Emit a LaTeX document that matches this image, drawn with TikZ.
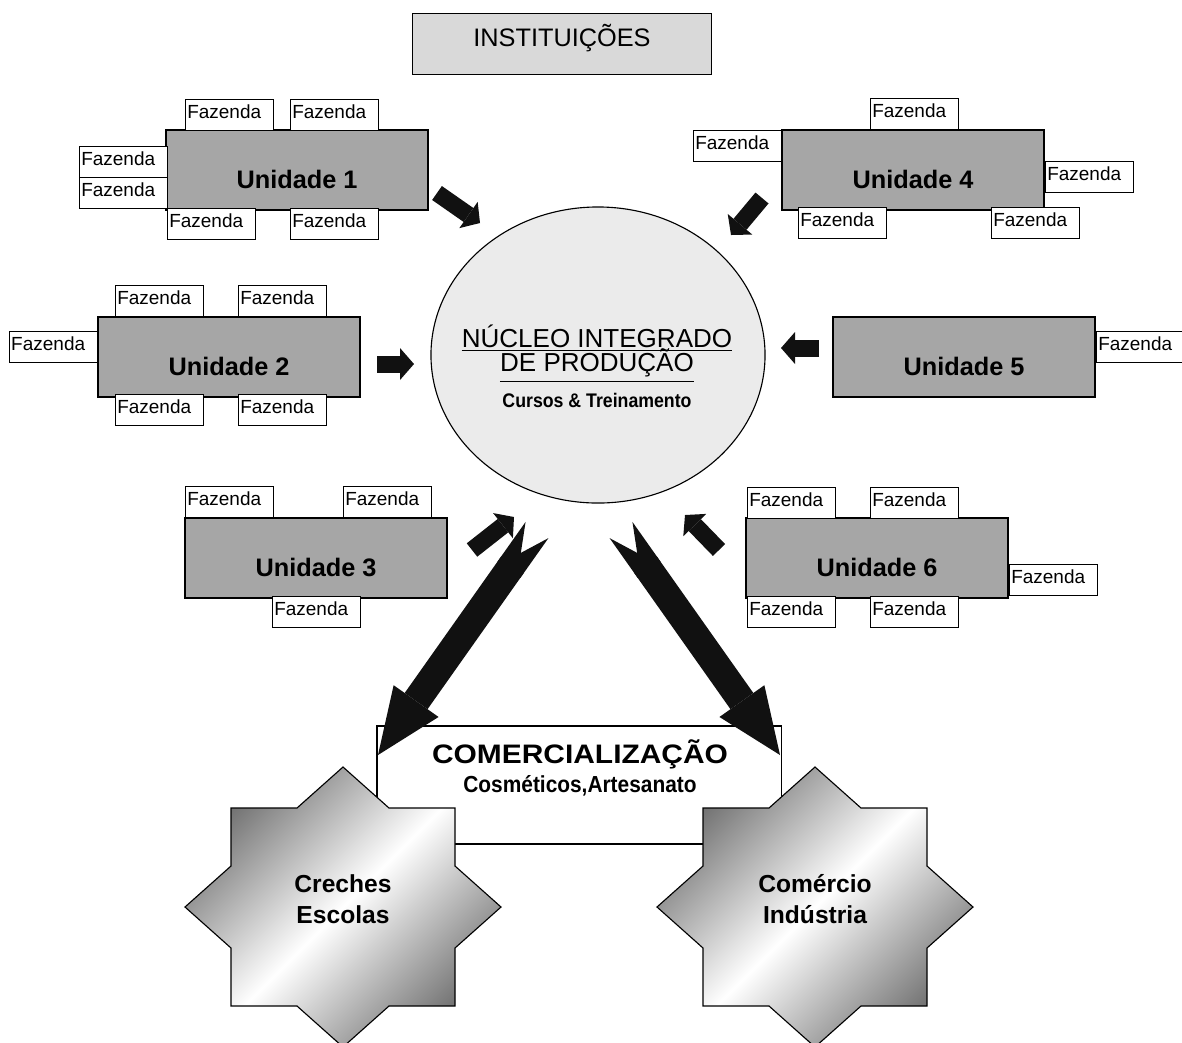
\documentclass[tikz,border=0pt]{standalone}
\usepackage{fontspec}
\setmainfont{Liberation Sans}
\newfontfamily\estreito{Liberation Sans}[FakeStretch=0.9]
\newfontfamily\largo{Liberation Sans}[FakeStretch=1.12]
\usetikzlibrary{arrows.meta,shapes.geometric}

\definecolor{cinzaunid}{HTML}{A6A6A6}
\definecolor{cinzainst}{HTML}{D9D9D9}
\definecolor{cinzanucleo}{HTML}{EBEBEB}
\definecolor{preto}{HTML}{111111}

\tikzset{
  fazenda/.style={draw, fill=white, line width=0.8pt, anchor=north west,
    inner xsep=1.2pt, inner ysep=0pt, text width=2.11cm, align=left,
    minimum height=0.775cm, text height=10pt, text depth=4.5pt,
    font=\fontsize{13.5}{15}\selectfont},
  unidade/.style={draw, fill=cinzaunid, line width=1pt, minimum width=6.55cm,
    minimum height=2cm, text height=26pt, text depth=0pt,
    font=\bfseries\fontsize{18}{20}\selectfont},
  seta/.style={draw=preto, line width=0.425cm,
    -{Triangle[length=0.35cm, width=0.8cm, line width=0pt]}},
  setagrande/.style={draw=preto, line width=0.7cm,
    {Triangle Cap[reversed, length=0.7cm]}-{Triangle[length=1.65cm, width=1.375cm, line width=0pt]}},
  estrela/.style={draw, line width=0.8pt, shading=axis, top color=black!55,
    bottom color=black!55, middle color=white, shading angle=45},
  texto/.style={anchor=base, inner sep=0pt},
  sublinha/.style={draw, line width=0.7pt}
}

\begin{document}
\begin{tikzpicture}[x=0.025cm, y=-0.025cm]
  \useasboundingbox (0,0) rectangle (1182,1042);

  % Instituições
  \node[draw, fill=cinzainst, line width=1pt, minimum width=7.475cm, minimum height=1.525cm,
    text height=13pt, text depth=9.7pt, font=\fontsize{18}{20}\selectfont] (inst) at (562,44) {INSTITUIÇÕES};

  % Unidades
  \node[unidade] (u1) at (297,170) {Unidade 1};
  \node[unidade] (u2) at (229,357) {Unidade 2};
  \node[unidade] (u3) at (316,558) {Unidade 3};
  \node[unidade] (u4) at (913,170) {Unidade 4};
  \node[unidade] (u5) at (964,357) {Unidade 5};
  \node[unidade] (u6) at (877,558) {Unidade 6};

  % Fazendas da unidade 1
  \node[fazenda] (f1a) at (185,99) {Fazenda};
  \node[fazenda] (f1b) at (290,99) {Fazenda};
  \node[fazenda] (f1c) at (79,146) {Fazenda};
  \node[fazenda] (f1d) at (79,177) {Fazenda};
  \node[fazenda] (f1e) at (167,208) {Fazenda};
  \node[fazenda] (f1f) at (290,208) {Fazenda};
  % Fazendas da unidade 2
  \node[fazenda] (f2a) at (115,285) {Fazenda};
  \node[fazenda] (f2b) at (238,285) {Fazenda};
  \node[fazenda] (f2c) at (9,331) {Fazenda};
  \node[fazenda] (f2d) at (115,394) {Fazenda};
  \node[fazenda] (f2e) at (238,394) {Fazenda};
  % Fazendas da unidade 3
  \node[fazenda] (f3a) at (185,486) {Fazenda};
  \node[fazenda] (f3b) at (343,486) {Fazenda};
  \node[fazenda] (f3c) at (272,596) {Fazenda};
  % Fazendas da unidade 4
  \node[fazenda] (f4a) at (870,98) {Fazenda};
  \node[fazenda] (f4b) at (693,130) {Fazenda};
  \node[fazenda] (f4c) at (1045,161) {Fazenda};
  \node[fazenda] (f4d) at (798,207) {Fazenda};
  \node[fazenda] (f4e) at (991,207) {Fazenda};
  % Fazenda da unidade 5
  \node[fazenda] (f5a) at (1096,331) {Fazenda};
  % Fazendas da unidade 6
  \node[fazenda] (f6a) at (747,487) {Fazenda};
  \node[fazenda] (f6b) at (870,487) {Fazenda};
  \node[fazenda] (f6c) at (1009,564) {Fazenda};
  \node[fazenda] (f6d) at (747,596) {Fazenda};
  \node[fazenda] (f6e) at (870,596) {Fazenda};

  % Núcleo
  \node[ellipse, draw, fill=cinzanucleo, line width=0.8pt, inner sep=0pt,
    minimum width=8.35cm, minimum height=7.4cm] (nucleo) at (598,355) {};
  \node[texto, font=\fontsize{18.5}{20}\selectfont] (nuc1) at (597,347) {NÚCLEO INTEGRADO};
  \node[texto, font=\fontsize{18.5}{20}\selectfont] (nuc2) at (597,371) {DE PRODUÇÃO};
  \node[texto, font=\estreito\bfseries\fontsize{14}{16}\selectfont] (nuc3) at (597,407) {Cursos \& Treinamento};
  \draw[sublinha] ([yshift=-2.6pt]nuc1.base west) -- ([yshift=-2.6pt]nuc1.base east);
  \draw[sublinha] ([yshift=-7.2pt]nuc2.base west) -- ([yshift=-7.2pt]nuc2.base east);

  % setas das unidades
  \coordinate (a1i) at (437,193); \coordinate (a1f) at (480,223);
  \coordinate (a2i) at (377,364); \coordinate (a2f) at (414,364);
  \coordinate (a3i) at (472,550); \coordinate (a3f) at (514,517);
  \coordinate (a4i) at (762,198); \coordinate (a4f) at (731,235);
  \coordinate (a5i) at (819,348); \coordinate (a5f) at (781,348);
  \coordinate (a6i) at (719,550); \coordinate (a6f) at (685,515);
  \foreach \k in {1,...,6}
    \draw[seta] (a\k i) -- (a\k f);

  % Comercialização
  \node[draw, fill=white, line width=0.8pt, minimum width=10.1cm, minimum height=2.95cm] (comerc) at (579,785) {};
  \node[texto, font=\largo\bfseries\fontsize{19}{22}\selectfont] (com1) at (580,763) {COMERCIALIZAÇÃO};
  \node[texto, font=\estreito\bfseries\fontsize{16.5}{19}\selectfont] (com2) at (580,792) {Cosméticos,Artesanato};

  % setas grandes
  \coordinate (gei) at (537,530); \coordinate (gef) at (378,755);
  \coordinate (gdi) at (621,530); \coordinate (gdf) at (780,755);
  \draw[setagrande] (gei) -- (gef);
  \draw[setagrande] (gdi) -- (gdf);

  % estrelas
  \foreach \cx in {343,815} {
    \begin{scope}[shift={(\cx,907)}]
      \draw[estrela] (0,-140) -- (46,-99) -- (112,-99) -- (112,-41) -- (158,0) -- (112,41)
        -- (112,99) -- (46,99) -- (0,140) -- (-46,99) -- (-112,99) -- (-112,41)
        -- (-158,0) -- (-112,-41) -- (-112,-99) -- (-46,-99) -- cycle;
    \end{scope}
  }
  \node[texto, font=\bfseries\fontsize{17.5}{20}\selectfont] (cre1) at (343,892) {Creches};
  \node[texto, font=\bfseries\fontsize{17.5}{20}\selectfont] (cre2) at (343,923) {Escolas};
  \node[texto, font=\bfseries\fontsize{17.5}{20}\selectfont] (ind1) at (815,892) {Comércio};
  \node[texto, font=\bfseries\fontsize{17.5}{20}\selectfont] (ind2) at (815,923) {Indústria};
\end{tikzpicture}
\end{document}
